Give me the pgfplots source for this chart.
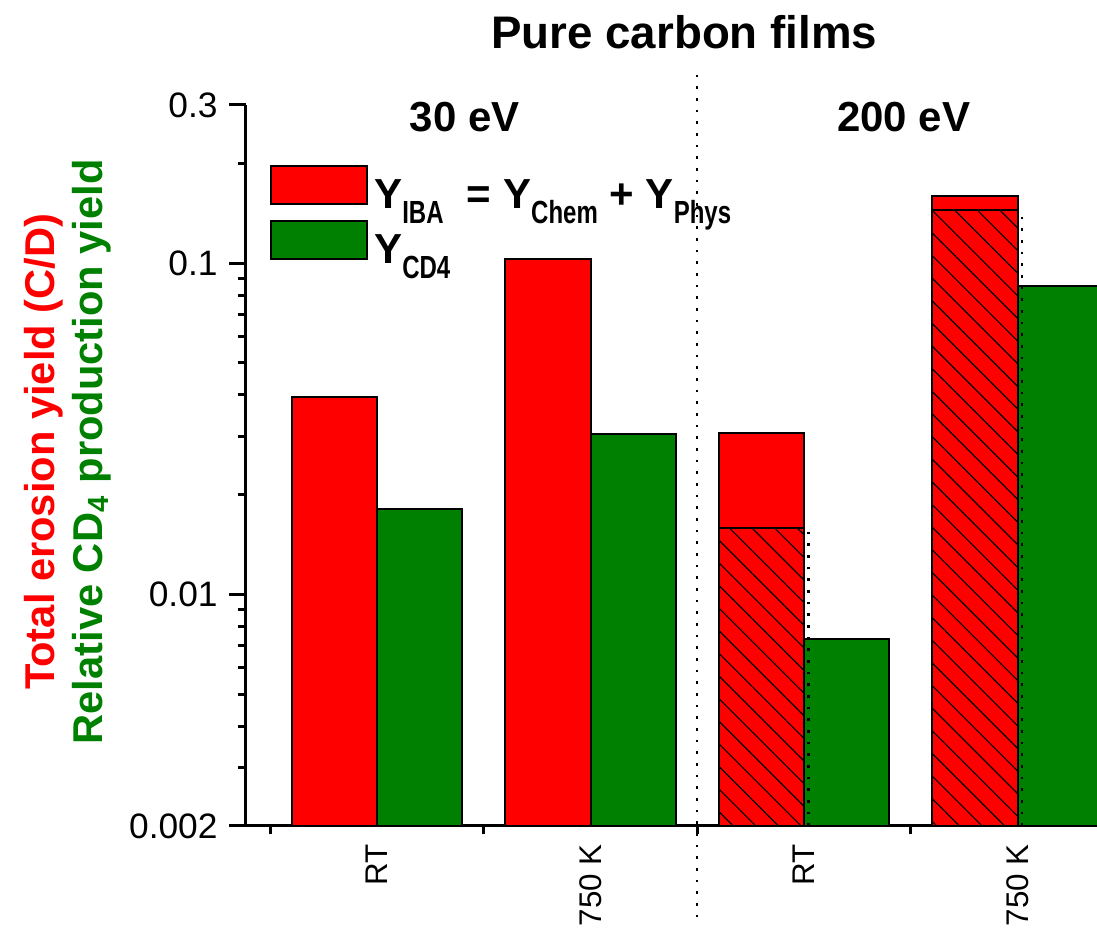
\documentclass[border=0pt]{standalone}
\usepackage{pgfplots}
\pgfplotsset{compat=1.18}
\usepackage{graphicx}
\usetikzlibrary{patterns.meta}
\usepackage{fontspec}
\setmainfont{Liberation Sans}
\definecolor{myred}{HTML}{FF0000}
\definecolor{mygreen}{HTML}{008000}
\newcommand{\sub}[1]{\raisebox{-4.5pt}{\scalebox{0.75}[1]{\fontsize{9.6}{10}\selectfont #1}}}
\pgfplotsset{mylegend/.style={legend image code/.code={\draw[##1, draw=black, line width=0.6pt] (0pt,-2.2pt) rectangle (28.8pt,9.2pt);}}}
\begin{document}
\begin{tikzpicture}
\begin{axis}[
  scale only axis, width=255.3pt, height=216.3pt,
  clip=false,
  xmin=0.386, xmax=4.372,
  ymode=log, ymin=0.002, ymax=0.3, log origin=infty,
  axis x line*=bottom, axis y line*=left,
  axis line style={line width=0.9pt},
  tick align=outside,
  xtick={1,2,3,4}, xticklabels={RT,750 K,RT,750 K},
  minor xtick={0.5,1.5,2.5,3.5},
  major x tick style={draw=none},
  ytick={0.002,0.01,0.1,0.3}, yticklabels={0.002,0.01,0.1,0.3},
  minor ytick={0.003,0.004,0.005,0.006,0.007,0.008,0.009,0.02,0.03,0.04,0.05,0.06,0.07,0.08,0.09,0.2},
  major tick length=5pt, minor tick length=2.5pt,
  tick style={line width=0.9pt, black},
  /pgf/number format/assume math mode=true,
  yticklabel style={font=\fontsize{10.6}{12}\selectfont},
  xticklabel style={rotate=90, anchor=east, font=\fontsize{9.4}{11}\selectfont},
  xticklabel shift=-3pt,
  ylabel={\textcolor{myred}{Total erosion yield (C/D)}\\\textcolor{mygreen}{Relative CD\textsubscript{4} production yield}},
  ylabel style={align=center, font=\bfseries\fontsize{12.5}{14.4}\selectfont, at={(axis description cs:-0.21,0.519)}, anchor=center},
  legend style={at={(rel axis cs:0.027,0.918)}, anchor=north west, draw=none, fill=none,
    font=\bfseries\fontsize{12.6}{15}\selectfont, row sep=0pt, inner sep=0pt},
  legend cell align=left,
]
\addplot[ybar, bar width=0.4, bar shift=-0.2, fill=myred, draw=black, line width=0.6pt, mylegend]
  coordinates {(1,0.0394) (2,0.1028) (3,0.0306) (4,0.1594)};
\addlegendentry{Y\sub{IBA}\ \ = Y\sub{Chem} + Y\sub{Phys}}
\addplot[ybar, bar width=0.4, bar shift=0.2, fill=mygreen, draw=black, line width=0.6pt, mylegend]
  coordinates {(1,0.0181) (2,0.0304) (3,0.00736) (4,0.0852)};
\addlegendentry{Y\sub{CD4}}
\addplot[ybar, bar width=0.4, bar shift=-0.2, draw=black, line width=0.6pt, forget plot,
  pattern={Lines[angle=-45,distance=4.8pt,line width=0.35pt]}, pattern color=black]
  coordinates {(3,0.01585) (4,0.1446)};
\addplot[black, line width=0.7pt, dash pattern=on 0.8pt off 2.7pt, forget plot]
  coordinates {(2.5,0.37) (2.5,0.001)};
\addplot[black, line width=0.7pt, dash pattern=on 0.8pt off 2.7pt, forget plot]
  coordinates {(3.02,0.002) (3.02,0.01585)};
\addplot[black, line width=0.7pt, dash pattern=on 0.8pt off 2.7pt, forget plot]
  coordinates {(4.02,0.002) (4.02,0.1446)};
\node[font=\bfseries\fontsize{13.7}{16}\selectfont] at (rel axis cs:0.515,1.101) {Pure carbon films};
\node[font=\bfseries\fontsize{12.6}{15}\selectfont] at (rel axis cs:0.257,0.983) {30 eV};
\node[font=\bfseries\fontsize{12.6}{15}\selectfont] at (rel axis cs:0.773,0.983) {200 eV};
\coordinate (bl) at (rel axis cs:0,0);
\coordinate (tr) at (rel axis cs:1,1);
\end{axis}
\pgfresetboundingbox
\useasboundingbox ([xshift=-73.8pt,yshift=-31.2pt]bl) rectangle ([yshift=31.5pt]tr);
\end{tikzpicture}
\end{document}
